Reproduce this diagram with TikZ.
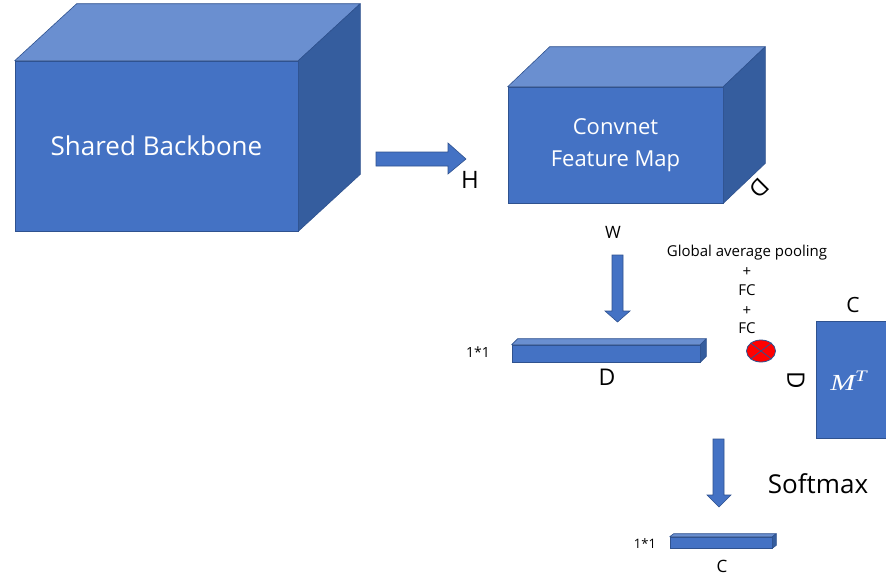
\documentclass[tikz,border=0pt]{standalone}
\usepackage{fontspec}
\setmainfont{Open Sans}
\newfontfamily\symbolserif{Liberation Serif}
\usetikzlibrary{shapes.geometric}
\definecolor{frontblue}{HTML}{4472C4}
\definecolor{topblue}{HTML}{6A8FD0}
\definecolor{sideblue}{HTML}{355D9E}
\definecolor{edgeblue}{HTML}{2F528F}
\tikzset{
  frontface/.style={draw=edgeblue, line width=0.6pt, fill=frontblue, inner sep=0pt,
    text=white, align=center},
  topface/.style={draw=edgeblue, line width=0.6pt, fill=topblue, line join=round},
  sideface/.style={draw=edgeblue, line width=0.6pt, fill=sideblue, line join=round},
  blockarrow/.style={draw=edgeblue, line width=0.6pt, fill=frontblue, line join=miter},
  lbl/.style={anchor=base, inner sep=0pt, text=black},
  rlbl/.style={anchor=center, inner sep=0pt, text=black},
  small/.style={lbl, font=\fontsize{15}{18}\selectfont},
}
% top and right faces of a box whose front face is the node #1
\newcommand{\boxfaces}[3]{%
  \path[topface] (#1.north west) -- ++(#2,#3)
     -- ([shift={(#2,#3)}]#1.north east) -- (#1.north east) -- cycle;
  \path[sideface] (#1.north east) -- ++(#2,#3)
     -- ([shift={(#2,#3)}]#1.south east) -- (#1.south east) -- cycle;
}
\begin{document}
\begin{tikzpicture}[x=1pt, y=-1pt]
\useasboundingbox[fill=white] (0,0) rectangle (886,579);

% shared backbone
\node[frontface, minimum width=283pt, minimum height=170pt,
  font=\fontsize{26}{30}\selectfont] (backbone) at (156.5,146) {Shared Backbone};
\boxfaces{backbone}{62}{-57}

% feature map
\node[frontface, minimum width=215pt, minimum height=116pt,
  font=\fontsize{22}{32}\selectfont] (fmap) at (615.5,145) {Convnet\\Feature Map};
\boxfaces{fmap}{42}{-40}

% arrow backbone -> feature map
\coordinate (ra) at (376,159);
\path[blockarrow] (ra) ++(0,-7) -- ++(72,0) -- ++(0,-9) -- (466,159)
  -- (448,174) -- ++(0,-8) -- (376,166) -- cycle;
\node[lbl, font=\fontsize{24}{28}\selectfont] (hlab) at (470,188) {H};
\node[rlbl, font=\fontsize{23}{28}\selectfont, rotate=225] (dfm) at (759,188) {D};
\node[lbl, font=\fontsize{17}{20}\selectfont] (wlab) at (613,238) {W};

% arrow feature map -> pooled vector
\path[blockarrow] (612,255) -- (623,255) -- (623,311) -- (630,311) -- (617.5,322)
  -- (605,311) -- (612,311) -- cycle;

% pooled vector 1*1*D
\node[frontface, minimum width=188pt, minimum height=17pt] (vecd) at (606,353.5) {};
\boxfaces{vecd}{6}{-6}
\node[lbl, font=\fontsize{14}{16}\selectfont] (v1) at (478,357) {1*1};
\node[lbl, font=\fontsize{23}{28}\selectfont] (vd) at (607,385) {D};

% pooling head
\node[small] (gap) at (747,256) {Global average pooling};
\node[small] (p1) at (747,276) {+};
\node[small] (fc1) at (747,295) {FC};
\node[small] (p2) at (747,315) {+};
\node[small] (fc2) at (747,333) {FC};

% multiplication
\node[ellipse, draw=edgeblue, line width=0.8pt, fill=red, minimum width=29pt,
  minimum height=22pt, inner sep=0pt] (mult) at (761,351) {};
\draw[edgeblue, line width=0.8pt] (mult.north west) -- (mult.south east)
  (mult.north east) -- (mult.south west);

% class matrix
\node[frontface, minimum width=71pt, minimum height=117pt] (mt) at (851.5,379.5) {};
\node[anchor=base west, inner sep=0pt, text=white, xscale=1.3,
  font=\symbolserif\itshape\fontsize{23}{28}\selectfont]
  (mtxt) at (830,390) {M\raisebox{9pt}{\fontsize{16}{20}\selectfont T}};
\node[lbl, font=\fontsize{21}{26}\selectfont] (mc) at (853,312) {C};
\node[rlbl, font=\fontsize{24}{28}\selectfont, rotate=-90] (md) at (796,380) {D};

% arrow -> class scores
\path[blockarrow] (713,439) -- (724,439) -- (724,495) -- (731,495) -- (719,507)
  -- (707,495) -- (713,495) -- cycle;
\node[lbl, font=\fontsize{26}{30}\selectfont] (smax) at (818,493) {Softmax};

% class score vector 1*1*C
\node[frontface, minimum width=102pt, minimum height=11pt] (vecc) at (721,542.5) {};
\boxfaces{vecc}{4}{-3}
\node[lbl, font=\fontsize{13}{16}\selectfont] (c1) at (645,548) {1*1};
\node[lbl, font=\fontsize{17}{20}\selectfont] (cc) at (722,572) {C};
\end{tikzpicture}
\end{document}
